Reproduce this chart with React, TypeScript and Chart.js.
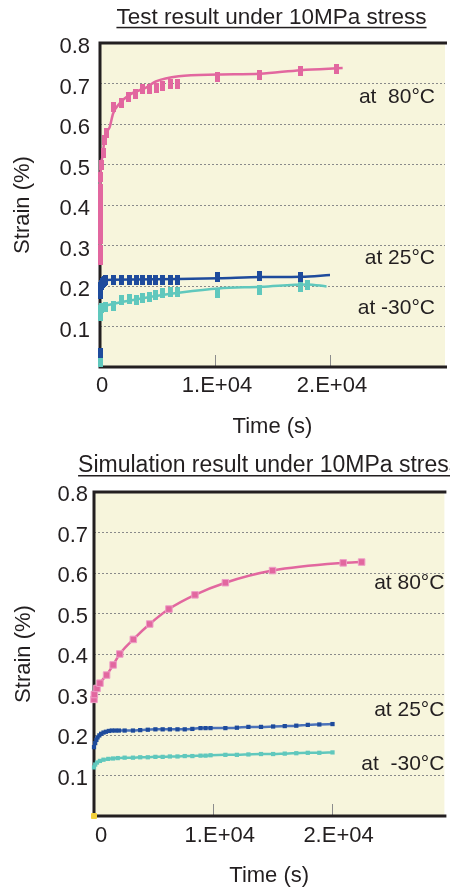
import React, { useEffect, useRef } from 'react';
import { Chart, registerables } from 'chart.js';

Chart.register(...registerables);

// ---------------- Data: test result (top chart) ----------------
const test80Time = [0, 0, 0, 0, 0, 0, 0, 0, 40, 145, 280, 430, 570, 1200, 1850, 2500, 3050, 3700, 4270, 4930, 5470, 6130, 6750, 10260, 13900, 17440, 20570];
const test80Strain = [0.265, 0.29, 0.315, 0.34, 0.365, 0.39, 0.415, 0.44, 0.47, 0.5, 0.528, 0.56, 0.578, 0.641, 0.653, 0.667, 0.673, 0.686, 0.686, 0.688, 0.694, 0.7, 0.7, 0.715, 0.721, 0.731, 0.736];
const test80FitTime = [0, 15, 150, 430, 850, 1140, 1710, 2560, 4000, 4850, 6840, 10260, 13900, 17440, 21100];
const test80FitStrain = [0.26, 0.445, 0.511, 0.569, 0.593, 0.626, 0.651, 0.672, 0.69, 0.705, 0.718, 0.722, 0.724, 0.733, 0.738];

const test25Time = [0, 0, 0, 50, 100, 200, 300, 400, 515, 1200, 1850, 2550, 3150, 3700, 4270, 4860, 5430, 6130, 6750, 10260, 13900, 17440];
const test25Strain = [0.035, 0.18, 0.19, 0.197, 0.203, 0.207, 0.21, 0.213, 0.215, 0.215, 0.215, 0.215, 0.216, 0.216, 0.216, 0.216, 0.216, 0.216, 0.216, 0.222, 0.225, 0.222];
const test25FitTime = [0, 100, 300, 600, 3000, 6800, 10300, 14000, 17500, 20000];
const test25FitStrain = [0.18, 0.2, 0.21, 0.215, 0.216, 0.217, 0.219, 0.222, 0.223, 0.227];

const testM30Time = [0, 0, 0, 0, 100, 515, 1200, 1850, 2550, 3150, 3700, 4270, 4860, 5430, 6130, 6750, 10260, 13900, 17440, 18000];
const testM30Strain = [0.012, 0.125, 0.135, 0.141, 0.145, 0.149, 0.151, 0.165, 0.167, 0.165, 0.171, 0.174, 0.178, 0.182, 0.184, 0.184, 0.183, 0.19, 0.197, 0.202];
const testM30FitTime = [0, 100, 500, 1500, 3000, 5000, 7000, 10300, 14000, 18000, 19700];
const testM30FitStrain = [0.125, 0.145, 0.152, 0.158, 0.166, 0.176, 0.184, 0.194, 0.198, 0.204, 0.199];

// ---------------- Data: simulation result (bottom chart) ----------------
const sim80Time = [0, 30, 250, 500, 1060, 1610, 2170, 3310, 4690, 6310, 8500, 11060, 15030, 20980, 22530];
const sim80Strain = [0.288, 0.3, 0.315, 0.328, 0.348, 0.373, 0.4, 0.436, 0.474, 0.511, 0.546, 0.576, 0.606, 0.625, 0.627];

const sim25Time = [0, 100, 200, 300, 450, 600, 800, 1000, 1250, 1500, 1800, 2100, 2580, 3280, 3890, 4530, 5170, 5780, 6390, 7030, 7640, 8280, 8970, 9390, 9810, 11060, 12030, 13000, 14060, 15080, 16060, 17030, 18000, 18970, 20080];
const sim25Strain = [0.17, 0.18, 0.188, 0.194, 0.199, 0.203, 0.206, 0.208, 0.21, 0.211, 0.211, 0.211, 0.211, 0.211, 0.212, 0.213, 0.214, 0.214, 0.214, 0.214, 0.214, 0.215, 0.217, 0.217, 0.217, 0.217, 0.218, 0.22, 0.22, 0.221, 0.222, 0.223, 0.225, 0.226, 0.227];

const simM30Time = [0, 100, 250, 500, 800, 1200, 1600, 2000, 2580, 3280, 3890, 4530, 5170, 5780, 6390, 7030, 7640, 8280, 8970, 9390, 9810, 11060, 12030, 13000, 14060, 15080, 16060, 17030, 18000, 18970, 20080];
const simM30Strain = [0.12, 0.127, 0.132, 0.136, 0.139, 0.141, 0.142, 0.143, 0.144, 0.144, 0.145, 0.145, 0.146, 0.146, 0.147, 0.147, 0.148, 0.148, 0.149, 0.149, 0.15, 0.151, 0.151, 0.152, 0.153, 0.153, 0.154, 0.155, 0.156, 0.156, 0.157];

const simOriginTime = [0];
const simOriginStrain = [0];

// ---------------- Ticks / labels ----------------
const xTickValues = [0, 10000, 20000];
const xTickLabels = ['0', '1.E+04', '2.E+04'];
const yTickValues = [0, 0.1, 0.2, 0.3, 0.4, 0.5, 0.6, 0.7, 0.8];
const yTickLabels = ['', '0.1', '0.2', '0.3', '0.4', '0.5', '0.6', '0.7', '0.8'];

const topTitle = 'Test result under 10MPa stress';
const bottomTitle = 'Simulation result under 10MPa stress';
const xAxisTitle = 'Time (s)';
const yAxisTitle = 'Strain (%)';
const topNotes = ['at  80°C', 'at 25°C', 'at -30°C'];
const topNoteLevels = [0.665, 0.269, 0.146];
const bottomNotes = ['at 80°C', 'at 25°C', 'at  -30°C'];
const bottomNoteLevels = [0.575, 0.262, 0.128];

// ---------------- Styles ----------------
const FONT = '"Liberation Sans", Arial, Helvetica, sans-serif';
const TEXT = '#231F20';
const PINK = '#E2679F';
const PINK_LIGHT = '#EE9DC6';
const BLUE = '#1E4B9C';
const BLUE_LINE = '#4B72B9';
const TEAL = '#60C8BD';
const GOLD = '#F2D03B';
const BG = '#F7F5DC';

const zip = (xs: number[], ys: number[]) => xs.map((x, i) => ({ x, y: ys[i] }));

const markerCanvas = (color: string, w: number, h: number) => {
  const c = document.createElement('canvas');
  c.width = w;
  c.height = h;
  const g = c.getContext('2d')!;
  g.fillStyle = color;
  g.fillRect(0, 0, w, h);
  return c;
};

const panelDecor = {
  id: 'panelDecor',
  beforeDraw(chart: any, _a: any, o: any) {
    const { ctx, chartArea: ca } = chart;
    ctx.save();
    ctx.fillStyle = o.background;
    ctx.fillRect(ca.left, ca.top, ca.right - ca.left, ca.bottom - ca.top);
    ctx.restore();
  },
  beforeDatasetsDraw(chart: any, _a: any, o: any) {
    const { ctx, chartArea: ca, scales } = chart;
    ctx.save();
    ctx.strokeStyle = '#8c8c8c';
    ctx.lineWidth = 1;
    o.tickValues.forEach((v: number) => {
      if (v <= 0) return;
      const px = Math.round(scales.x.getPixelForValue(v)) + 0.5;
      ctx.beginPath();
      ctx.moveTo(px, ca.bottom);
      ctx.lineTo(px, ca.bottom - 12);
      ctx.stroke();
    });
    ctx.strokeStyle = TEXT;
    ctx.lineWidth = 3;
    ctx.lineJoin = 'miter';
    ctx.beginPath();
    ctx.moveTo(ca.right + 2, ca.top);
    ctx.lineTo(ca.left, ca.top);
    ctx.lineTo(ca.left, ca.bottom);
    ctx.lineTo(ca.right + 2, ca.bottom);
    ctx.stroke();
    ctx.restore();
  },
  afterDraw(chart: any, _a: any, o: any) {
    const { ctx, chartArea: ca, scales } = chart;
    ctx.save();
    ctx.fillStyle = TEXT;
    // temperature notes
    ctx.font = `21px ${FONT}`;
    ctx.textAlign = 'right';
    ctx.textBaseline = 'middle';
    o.notes.forEach((t: string, i: number) => {
      ctx.fillText(t, ca.right - o.noteInset, scales.y.getPixelForValue(o.noteLevels[i]));
    });
    // underlined chart title
    ctx.font = `${o.titleSize}px ${FONT}`;
    ctx.textAlign = 'center';
    const cx = (ca.left + ca.right) / 2 + o.titleShift;
    ctx.fillText(o.titleText, cx, o.titleY);
    const w = ctx.measureText(o.titleText).width;
    ctx.fillRect(cx - w / 2, o.titleY + o.underlineGap, w, 1.5);
    ctx.restore();
  },
};

type Panel = {
  title: string;
  titleSize: number;
  titleY: number;
  titleShift: number;
  underlineGap: number;
  topPad: number;
  yWidth: number;
  xHeight: number;
  xMax: number;
  yTickPad: number;
  yLabelOffset: number;
  xTickPad: number;
  xLabelOffset: number;
  xTitlePadBottom: number;
  yTitlePadTop: number;
  noteInset: number;
  notes: string[];
  noteLevels: number[];
  datasets: () => any[];
};

const labelFor = (values: number[], labels: string[], v: number) => {
  const i = values.findIndex((t) => Math.abs(t - v) < 1e-6 * Math.max(1, Math.abs(t)));
  return i >= 0 ? labels[i] : '';
};

function buildConfig(p: Panel): any {
  return {
    type: 'line',
    data: { datasets: p.datasets() },
    options: {
      responsive: false,
      animation: false,
      devicePixelRatio: 1,
      events: [],
      layout: { padding: { top: p.topPad, left: 0, right: 0, bottom: 0 } },
      plugins: {
        legend: { display: false },
        tooltip: { enabled: false },
        title: { display: false },
        panelDecor: {
          background: BG,
          tickValues: xTickValues,
          notes: p.notes,
          noteLevels: p.noteLevels,
          noteInset: p.noteInset,
          titleText: p.title,
          titleSize: p.titleSize,
          titleY: p.titleY,
          titleShift: p.titleShift,
          underlineGap: p.underlineGap,
        },
      },
      scales: {
        x: {
          type: 'linear',
          min: 0,
          max: p.xMax,
          grid: { display: true, color: 'transparent', drawTicks: false },
          border: { display: false },
          afterBuildTicks: (s: any) => {
            s.ticks = xTickValues.map((v) => ({ value: v }));
          },
          ticks: {
            autoSkip: false,
            maxRotation: 0,
            padding: p.xTickPad,
            labelOffset: p.xLabelOffset,
            color: TEXT,
            font: { family: FONT, size: 22 },
            callback: (v: number) => labelFor(xTickValues, xTickLabels, v),
          },
          title: {
            display: true,
            text: xAxisTitle,
            color: TEXT,
            font: { family: FONT, size: 22 },
            padding: { top: 0, bottom: p.xTitlePadBottom },
          },
          afterFit: (s: any) => {
            s.height = p.xHeight;
          },
        },
        y: {
          type: 'linear',
          min: 0,
          max: 0.8,
          afterBuildTicks: (s: any) => {
            s.ticks = yTickValues.map((v) => ({ value: v }));
          },
          grid: {
            display: true,
            drawTicks: false,
            lineWidth: 1,
            color: (c: any) => {
              const v = c.tick ? c.tick.value : 0;
              return v > 0.001 && v < 0.799 ? '#8a8a8a' : 'transparent';
            },
          },
          border: { display: false, dash: [2, 2] },
          ticks: {
            autoSkip: false,
            padding: p.yTickPad,
            labelOffset: p.yLabelOffset,
            color: TEXT,
            font: { family: FONT, size: 22 },
            callback: (v: number) => labelFor(yTickValues, yTickLabels, v),
          },
          title: {
            display: true,
            text: yAxisTitle,
            color: TEXT,
            font: { family: FONT, size: 22 },
            padding: { top: p.yTitlePadTop, bottom: 0 },
          },
          afterFit: (s: any) => {
            s.width = p.yWidth;
          },
        },
      },
    },
    plugins: [panelDecor],
  };
}

const topPanel: Panel = {
  title: topTitle,
  titleSize: 22.5,
  titleY: 17.5,
  titleShift: -1,
  underlineGap: 9.3,
  topPad: 43,
  yWidth: 100,
  xHeight: 78,
  xMax: 30000,
  yTickPad: 10,
  yLabelOffset: 4,
  xTickPad: 6,
  xLabelOffset: 2,
  xTitlePadBottom: 5,
  yTitlePadTop: 10,
  noteInset: 10,
  notes: topNotes,
  noteLevels: topNoteLevels,
  datasets: () => {
    const mk = (c: string) => markerCanvas(c, 5, 10);
    const markers = (label: string, xs: number[], ys: number[], c: string) => ({
      label,
      data: zip(xs, ys),
      showLine: false,
      pointStyle: mk(c),
      pointRadius: 4,
      borderColor: c,
      backgroundColor: c,
      clip: false,
    });
    const fit = (label: string, xs: number[], ys: number[], c: string) => ({
      label,
      data: zip(xs, ys),
      borderColor: c,
      borderWidth: 2.5,
      pointRadius: 0,
      cubicInterpolationMode: 'monotone',
      fill: false,
      clip: false,
    });
    return [
      markers('Test 80°C', test80Time, test80Strain, PINK),
      markers('Test 25°C', test25Time, test25Strain, BLUE),
      markers('Test -30°C', testM30Time, testM30Strain, TEAL),
      fit('Fit 80°C', test80FitTime, test80FitStrain, PINK),
      fit('Fit 25°C', test25FitTime, test25FitStrain, BLUE),
      fit('Fit -30°C', testM30FitTime, testM30FitStrain, TEAL),
    ];
  },
};

const bottomPanel: Panel = {
  title: bottomTitle,
  titleSize: 23,
  titleY: 20.5,
  titleShift: 0,
  underlineGap: 9.5,
  topPad: 47,
  yWidth: 94,
  xHeight: 74,
  xMax: 29500,
  yTickPad: 6,
  yLabelOffset: 3,
  xTickPad: 7,
  xLabelOffset: 7,
  xTitlePadBottom: 1,
  yTitlePadTop: 11,
  noteInset: 0,
  notes: bottomNotes,
  noteLevels: bottomNoteLevels,
  datasets: () => [
    {
      label: 'Origin',
      data: zip(simOriginTime, simOriginStrain),
      showLine: false,
      pointStyle: 'rect',
      pointRadius: 3.5,
      pointBackgroundColor: GOLD,
      pointBorderColor: GOLD,
      clip: false,
    },
    {
      label: 'Sim 80°C',
      data: zip(sim80Time, sim80Strain),
      borderColor: PINK,
      borderWidth: 2.5,
      pointStyle: 'rect',
      pointRadius: 4.6,
      pointBackgroundColor: PINK,
      pointBorderColor: PINK_LIGHT,
      pointBorderWidth: 1,
      cubicInterpolationMode: 'monotone',
      fill: false,
      clip: false,
    },
    {
      label: 'Sim 25°C',
      data: zip(sim25Time, sim25Strain),
      borderColor: BLUE_LINE,
      borderWidth: 2.5,
      pointStyle: 'rect',
      pointRadius: 3,
      pointBackgroundColor: BLUE,
      pointBorderColor: BLUE,
      pointBorderWidth: 0,
      cubicInterpolationMode: 'monotone',
      fill: false,
      clip: false,
    },
    {
      label: 'Sim -30°C',
      data: zip(simM30Time, simM30Strain),
      borderColor: TEAL,
      borderWidth: 2.5,
      pointStyle: 'rect',
      pointRadius: 3,
      pointBackgroundColor: TEAL,
      pointBorderColor: TEAL,
      pointBorderWidth: 0,
      cubicInterpolationMode: 'monotone',
      fill: false,
      clip: false,
    },
  ],
};

function ChartPanel({ panel }: { panel: Panel }) {
  const ref = useRef<HTMLCanvasElement | null>(null);
  useEffect(() => {
    if (!ref.current) return;
    const chart = new Chart(ref.current, buildConfig(panel));
    return () => chart.destroy();
  }, [panel]);
  return (
    <div style={{ width: 450, height: 445, position: 'relative' }}>
      <canvas ref={ref} width={450} height={445} style={{ display: 'block', width: 450, height: 445 }} />
    </div>
  );
}

export default function App() {
  return (
    <div style={{ position: 'absolute', left: 0, top: 0, width: 450, height: 890, background: '#ffffff', overflow: 'hidden' }}>
      <ChartPanel panel={topPanel} />
      <ChartPanel panel={bottomPanel} />
    </div>
  );
}
